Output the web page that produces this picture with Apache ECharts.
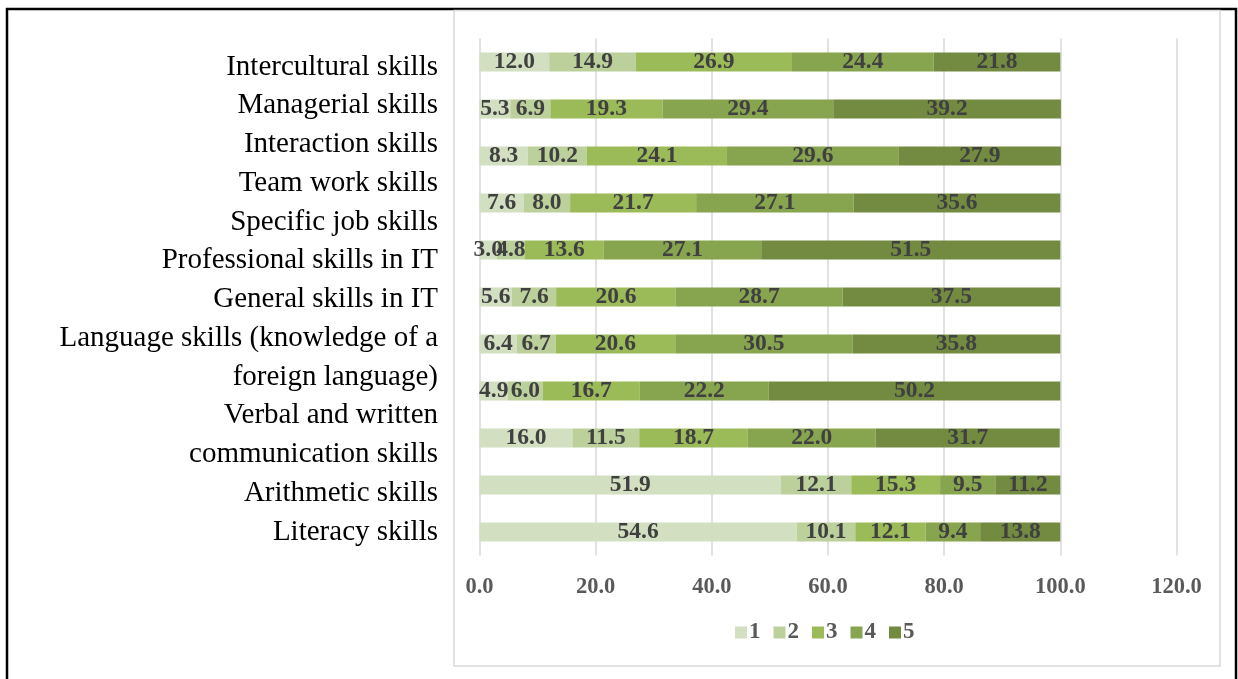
<!DOCTYPE html>
<html>
<head>
<meta charset="utf-8">
<script src="https://cdn.jsdelivr.net/npm/echarts@6/dist/echarts.min.js"></script>
<style>
  html, body { margin: 0; padding: 0; background: #ffffff; }
  #chart { width: 1238px; height: 679px; }
</style>
</head>
<body>
<div id="chart"></div>
<script>
// Skill categories, top to bottom
const categories = [
  'Intercultural skills', 'Managerial skills', 'Interaction skills', 'Team work skills',
  'Specific job skills', 'Professional skills in IT', 'General skills in IT',
  'Language skills (knowledge of a foreign language)', 'Verbal and written communication skills',
  'Arithmetic skills', 'Literacy skills'
];

// Text lines of the category list as typeset beside the bars
const labelLines = [
  'Intercultural skills', 'Managerial skills', 'Interaction skills', 'Team work skills',
  'Specific job skills', 'Professional skills in IT', 'General skills in IT',
  'Language skills (knowledge of a', 'foreign language)', 'Verbal and written',
  'communication skills', 'Arithmetic skills', 'Literacy skills'
];

// Share of answers (%) for each rating 1..5
const rating1 = [12.0, 5.3, 8.3, 7.6, 3.0, 5.6, 6.4, 4.9, 16.0, 51.9, 54.6];
const rating2 = [14.9, 6.9, 10.2, 8.0, 4.8, 7.6, 6.7, 6.0, 11.5, 12.1, 10.1];
const rating3 = [26.9, 19.3, 24.1, 21.7, 13.6, 20.6, 20.6, 16.7, 18.7, 15.3, 12.1];
const rating4 = [24.4, 29.4, 29.6, 27.1, 27.1, 28.7, 30.5, 22.2, 22.0, 9.5, 9.4];
const rating5 = [21.8, 39.2, 27.9, 35.6, 51.5, 37.5, 35.8, 50.2, 31.7, 11.2, 13.8];

const ratingNames = ['1', '2', '3', '4', '5'];
const ratingValues = [rating1, rating2, rating3, rating4, rating5];
const ratingColors = ['#d3dfc1', '#bbd09b', '#9bbb59', '#87a44e', '#728b40'];

// X axis ticks
const xMin = 0, xMax = 120, xStep = 20;

const serif = "'Liberation Serif', 'Times New Roman', serif";

const chart = echarts.init(document.getElementById('chart'), null, { renderer: 'canvas' });

const series = ratingNames.map((name, i) => ({
  name: name,
  type: 'bar',
  stack: 'total',
  xAxisIndex: 0,
  yAxisIndex: 0,
  barWidth: 19,
  data: ratingValues[i],
  itemStyle: { color: ratingColors[i] },
  label: {
    show: true,
    position: 'inside',
    color: '#404040',
    fontFamily: serif,
    fontWeight: 'bold',
    fontSize: 23.5,
    formatter: p => Number(p.value).toFixed(1)
  },
  emphasis: { disabled: true }
}));

chart.setOption({
  animation: false,
  backgroundColor: '#ffffff',
  graphic: [
    {
      type: 'rect',
      shape: { x: 7, y: 9, width: 1229, height: 720 },
      style: { fill: 'none', stroke: '#000000', lineWidth: 2.5 },
      silent: true, z: 0
    },
    {
      type: 'rect',
      shape: { x: 454, y: 10.5, width: 766, height: 655.5 },
      style: { fill: 'none', stroke: '#d9d9d9', lineWidth: 1.5 },
      silent: true, z: 0
    }
  ],
  legend: {
    data: ratingNames,
    left: 730,
    top: 616,
    icon: 'rect',
    itemWidth: 12,
    itemHeight: 12,
    itemGap: 13,
    textStyle: { color: '#595959', fontFamily: serif, fontWeight: 'bold', fontSize: 23, padding: [0, 0, 0, -3] }
  },
  grid: [
    { left: 479.5, right: 61.5, top: 38.5, height: 517, containLabel: false },
    { left: 440, width: 10, top: 47.6, height: 503.75, containLabel: false }
  ],
  xAxis: [
    {
      type: 'value',
      gridIndex: 0,
      min: xMin,
      max: xMax,
      interval: xStep,
      axisLine: { show: false },
      axisTick: { show: false },
      splitLine: { show: true, lineStyle: { color: '#d9d9d9', width: 1.5 } },
      axisLabel: {
        color: '#595959',
        fontFamily: serif,
        fontWeight: 'bold',
        fontSize: 22.5,
        margin: 20,
        formatter: v => Number(v).toFixed(1)
      }
    },
    {
      type: 'value',
      gridIndex: 1,
      show: false
    }
  ],
  yAxis: [
    {
      type: 'category',
      gridIndex: 0,
      data: categories,
      inverse: true,
      axisLine: { show: false },
      axisTick: { show: false },
      axisLabel: { show: false },
      splitLine: { show: false }
    },
    {
      type: 'category',
      gridIndex: 1,
      data: labelLines,
      inverse: true,
      axisLine: { show: false },
      axisTick: { show: false },
      splitLine: { show: false },
      axisLabel: {
        interval: 0,
        margin: 2,
        color: '#000000',
        fontFamily: serif,
        fontSize: 29
      }
    }
  ],
  series: series
});
</script>
</body>
</html>
